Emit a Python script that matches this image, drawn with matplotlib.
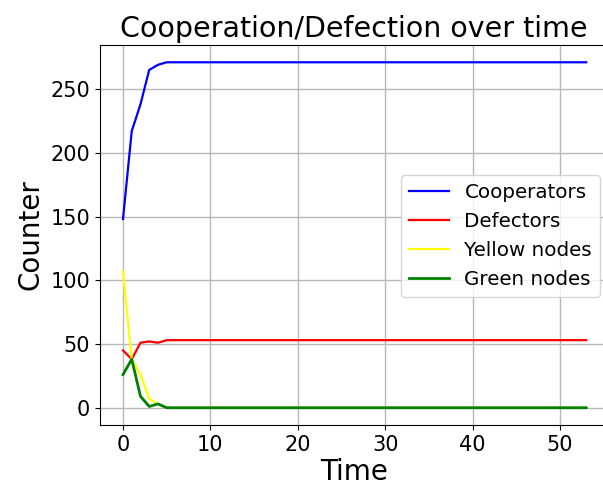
import matplotlib
matplotlib.use("Agg")
import matplotlib.pyplot as plt

time = list(range(54))
cooperators = [148, 217, 238, 265, 269, 271] + [271] * 48
defectors = [45, 38, 51, 52, 51, 53] + [53] * 48
yellow_nodes = [107, 38, 26, 7, 3, 0] + [0] * 48
green_nodes = [26, 38, 9, 1, 3, 0] + [0] * 48

fig = plt.figure(figsize=(6.03, 4.86), dpi=100)
ax = fig.add_axes([100 / 603, 1 - 425 / 486, 512 / 603, 380 / 486])
ax.plot(time, cooperators, color="blue", lw=1.6, label="Cooperators")
ax.plot(time, defectors, color="red", lw=1.6, label="Defectors")
ax.plot(time, yellow_nodes, color="yellow", lw=1.6, label="Yellow nodes")
ax.plot(time, green_nodes, color="green", lw=2, label="Green nodes")
ax.set_xlim(-2.63, 55.95)
ax.grid(True, color="#b8b8b8", lw=1)
ax.set_title("Cooperation/Defection over time", fontsize=20.5, x=0.496)
ax.set_xlabel("Time", fontsize=20, labelpad=2, x=0.496)
ax.set_ylabel("Counter", fontsize=20)
ax.tick_params(labelsize=15)
ax.set_xticks([0, 10, 20, 30, 40, 50])
ax.set_yticks([0, 50, 100, 150, 200, 250])
ax.legend(fontsize=14.3, loc="center right", bbox_to_anchor=(0.9766, 0.497),
          borderaxespad=0)
fig.savefig("out.png", dpi=100)
